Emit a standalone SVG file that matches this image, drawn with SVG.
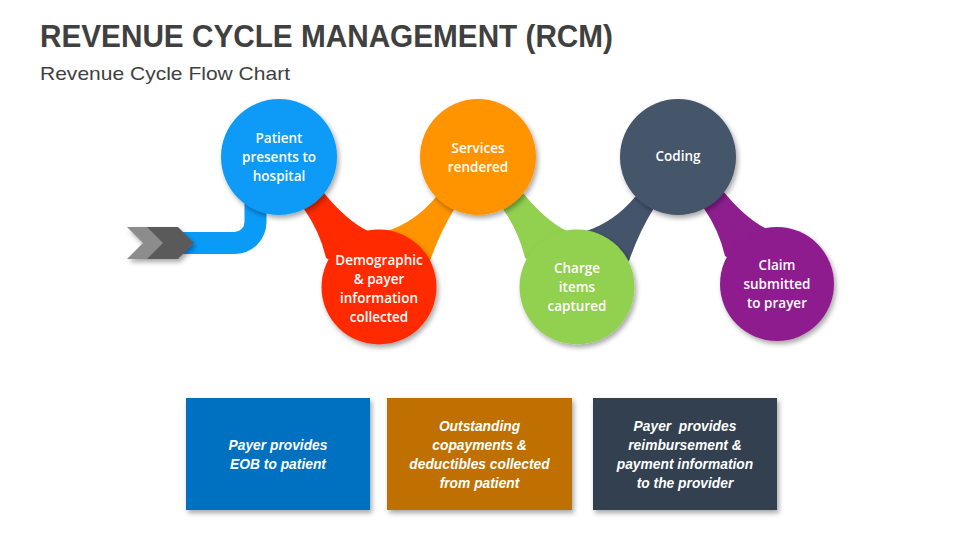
<svg xmlns="http://www.w3.org/2000/svg" width="960" height="540" viewBox="0 0 960 540">
<defs>
<filter id="sh" x="-20%" y="-20%" width="150%" height="150%">
<feDropShadow dx="2" dy="3" stdDeviation="2.5" flood-color="#000" flood-opacity="0.35"/>
</filter>
<style>
.t{fill:#404040;font-family:"Liberation Sans",Arial,sans-serif}
.c{fill:#fff;font-family:"Open Sans","Liberation Sans",sans-serif;font-weight:600;font-size:13.5px;text-anchor:middle}
.b{fill:#fff;font-family:"Liberation Sans",Arial,sans-serif;font-weight:bold;font-style:italic;font-size:13.8px;text-anchor:middle}
</style>
<path id="linkA" d="M279 157 L304 209 Q320 232 326 258 L379 287 L368 231 Q347 221 324 193 Z"/>
<path id="linkB" d="M379 287 L387 231 Q415 222 436 197 L478 157 L455 208 Q440 232 430 261 Z"/>
</defs>
<rect width="960" height="540" fill="#fff"/>
<text class="t" x="40" y="47" font-size="31" font-weight="bold" textLength="573" lengthAdjust="spacingAndGlyphs">REVENUE CYCLE MANAGEMENT (RCM)</text>
<text class="t" x="40" y="80" font-size="19" textLength="250" lengthAdjust="spacingAndGlyphs">Revenue Cycle Flow Chart</text>
<g id="connectors">
<path d="M255.5 190 L255.5 222 A21 21 0 0 1 234.5 243 L180 243" fill="none" stroke="#0A9BF7" stroke-width="22"/>
<use href="#linkA" fill="#FF2A00"/>
<use href="#linkB" fill="#FF9400"/>
<use href="#linkA" fill="#92D050" transform="translate(199,0)"/>
<use href="#linkB" fill="#44546A" transform="translate(199,0)"/>
<use href="#linkA" fill="#8E1E8E" transform="translate(399,-2)"/>
</g>
<g id="start-arrow" filter="url(#sh)">
<path d="M127 227 L160 227 L176 243 L160 259 L127 259 L143 243 Z" fill="#8C8C8C"/>
<path d="M147 227 L178 227 L194 243 L178 259 L147 259 L163 243 Z" fill="#5A5A5A"/>
</g>
<g id="node-patient">
<circle cx="279" cy="157" r="58" fill="#0A9BF7" filter="url(#sh)"/>
<text class="c" x="279" y="143">Patient</text>
<text class="c" x="279" y="162">presents to</text>
<text class="c" x="279" y="181">hospital</text>
</g>
<g id="node-demographic">
<circle cx="379" cy="287" r="57.5" fill="#FF2A00" filter="url(#sh)"/>
<text class="c" x="379" y="265">Demographic</text>
<text class="c" x="379" y="284">&amp; payer</text>
<text class="c" x="379" y="303">information</text>
<text class="c" x="379" y="322">collected</text>
</g>
<g id="node-services">
<circle cx="478" cy="157" r="58" fill="#FF9400" filter="url(#sh)"/>
<text class="c" x="478" y="153">Services</text>
<text class="c" x="478" y="172">rendered</text>
</g>
<g id="node-charge">
<circle cx="577" cy="287" r="57.5" fill="#92D050" filter="url(#sh)"/>
<text class="c" x="577" y="273">Charge</text>
<text class="c" x="577" y="292">items</text>
<text class="c" x="577" y="311">captured</text>
</g>
<g id="node-coding">
<circle cx="678" cy="157" r="58" fill="#44546A" filter="url(#sh)"/>
<text class="c" x="678" y="161">Coding</text>
</g>
<g id="node-claim">
<circle cx="777" cy="284" r="57" fill="#8E1E8E" filter="url(#sh)"/>
<text class="c" x="777" y="270">Claim</text>
<text class="c" x="777" y="289">submitted</text>
<text class="c" x="777" y="308">to prayer</text>
</g>
<g id="box-eob">
<rect x="186" y="398" width="184" height="112" fill="#0070C0" filter="url(#sh)"/>
<text class="b" x="278" y="450">Payer provides</text>
<text class="b" x="278" y="469">EOB to patient</text>
</g>
<g id="box-copay">
<rect x="387" y="398" width="185" height="112" fill="#BF6F00" filter="url(#sh)"/>
<text class="b" x="479.5" y="431">Outstanding</text>
<text class="b" x="479.5" y="450">copayments &amp;</text>
<text class="b" x="479.5" y="469">deductibles collected</text>
<text class="b" x="479.5" y="488">from patient</text>
</g>
<g id="box-reimb">
<rect x="593" y="398" width="184" height="112" fill="#333F50" filter="url(#sh)"/>
<text class="b" x="685" y="431" xml:space="preserve">Payer  provides</text>
<text class="b" x="685" y="450">reimbursement &amp;</text>
<text class="b" x="685" y="469">payment information</text>
<text class="b" x="685" y="488">to the provider</text>
</g>
</svg>
